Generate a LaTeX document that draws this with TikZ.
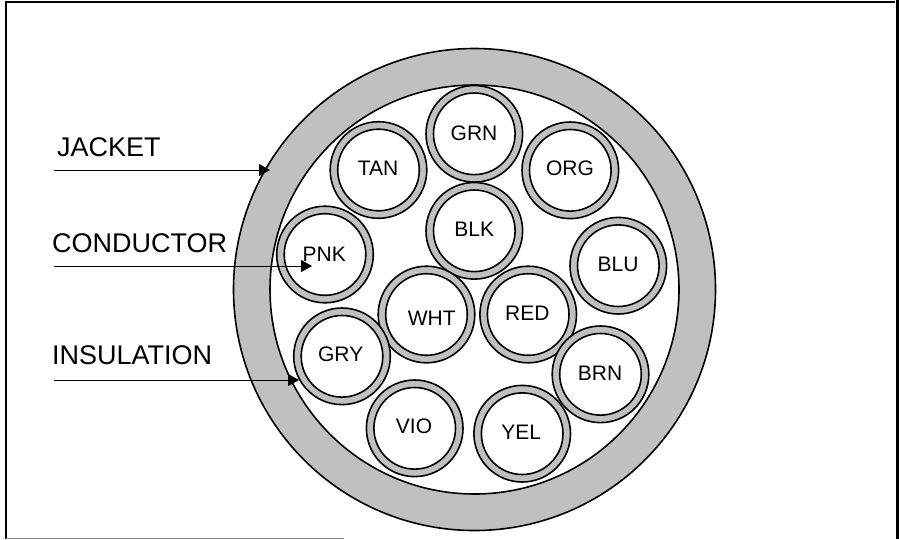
\documentclass[tikz,border=0pt]{standalone}
\usepackage{fontspec}
\setmainfont{Liberation Sans}
\usetikzlibrary{arrows.meta}
\definecolor{ringgray}{RGB}{192,192,192}
\tikzset{
  x=1pt,y=-1pt,
  wire/.style={circle,draw=black,line width=1.6pt,fill=white,minimum size=81.6pt,inner sep=0pt},
  ringwire/.style={circle,draw=black,line width=1.6pt,fill=ringgray,minimum size=96.6pt,inner sep=0pt},
  wirelab/.style={inner sep=0pt,font=\fontsize{21}{24}\selectfont},
  lab/.style={anchor=base west,inner sep=0pt,font=\fontsize{27}{30}\selectfont},
  pointer/.style={draw=black,line width=1pt,-{Triangle[length=11pt,width=12pt]}},
  frameline/.style={draw=black,line width=2.4pt}
}
\newcommand{\wirenode}[6]{%
  \node[ringwire] (#1o) at (#2,#3) {};
  \node[wire] (#1) at (#2,#3) {};
  \node[wirelab] (#1t) at (#5,#6) {#4};
}
\begin{document}
\begin{tikzpicture}
\useasboundingbox (0,0) rectangle (899,539);
\fill[white] (0,0) rectangle (899,539);
% frame
\coordinate (fbl) at (6,539);
\coordinate (ftl) at (6,2);
\coordinate (ftr) at (895,2);
\draw[frameline] (fbl) -- (ftl) -- (ftr);
\coordinate (rt) at (897.5,0);
\coordinate (rb) at (897.5,539);
\draw[draw=black,line width=3pt] (rt) -- (rb);
\coordinate (bl) at (6,538.5);
\coordinate (br) at (344,538.5);
\draw[draw=black!45,line width=1.4pt] (bl) -- (br);
% jacket
\node[circle,draw=black,line width=1.6pt,fill=ringgray,minimum size=482pt,inner sep=0pt] (jacket) at (474.5,289.5) {};
\node[circle,draw=black,line width=1.6pt,fill=white,minimum size=409pt,inner sep=0pt] (core) at (474.5,289.5) {};
% wires
\wirenode{grn}{474.3}{133.8}{GRN}{474}{133.3}
\wirenode{tan}{378.5}{170}{TAN}{378}{168.3}
\wirenode{org}{570.3}{170.3}{ORG}{570}{168.3}
\wirenode{blk}{474.3}{230.8}{BLK}{474.3}{229.3}
\wirenode{pnk}{325}{254.5}{PNK}{324.3}{254}
\wirenode{blu}{618.3}{265.7}{BLU}{618}{264.3}
\wirenode{wht}{426.5}{314.5}{WHT}{431.7}{318.3}
\wirenode{red}{528.2}{314.5}{RED}{527.3}{313.3}
\wirenode{gry}{342}{356.3}{GRY}{340.7}{354.3}
\wirenode{brn}{600.5}{374.3}{BRN}{600}{373.3}
\wirenode{vio}{414.7}{428.3}{VIO}{414}{426.7}
\wirenode{yel}{522.2}{433.7}{YEL}{521.3}{432.3}
% labels
\node[lab] (ljacket) at (57,156.5) {JACKET};
\node[lab] (lcond) at (52,252.5) {CONDUCTOR};
\node[lab] (lins) at (52,364.5) {INSULATION};
% pointers
\coordinate (ajs) at (54,170);
\coordinate (aje) at (270,170);
\coordinate (acs) at (54,266);
\coordinate (ace) at (312,266);
\coordinate (ais) at (54,380);
\coordinate (aie) at (299,380);
\draw[pointer] (ajs) -- (aje);
\draw[pointer] (acs) -- (ace);
\draw[pointer] (ais) -- (aie);
\end{tikzpicture}
\end{document}
